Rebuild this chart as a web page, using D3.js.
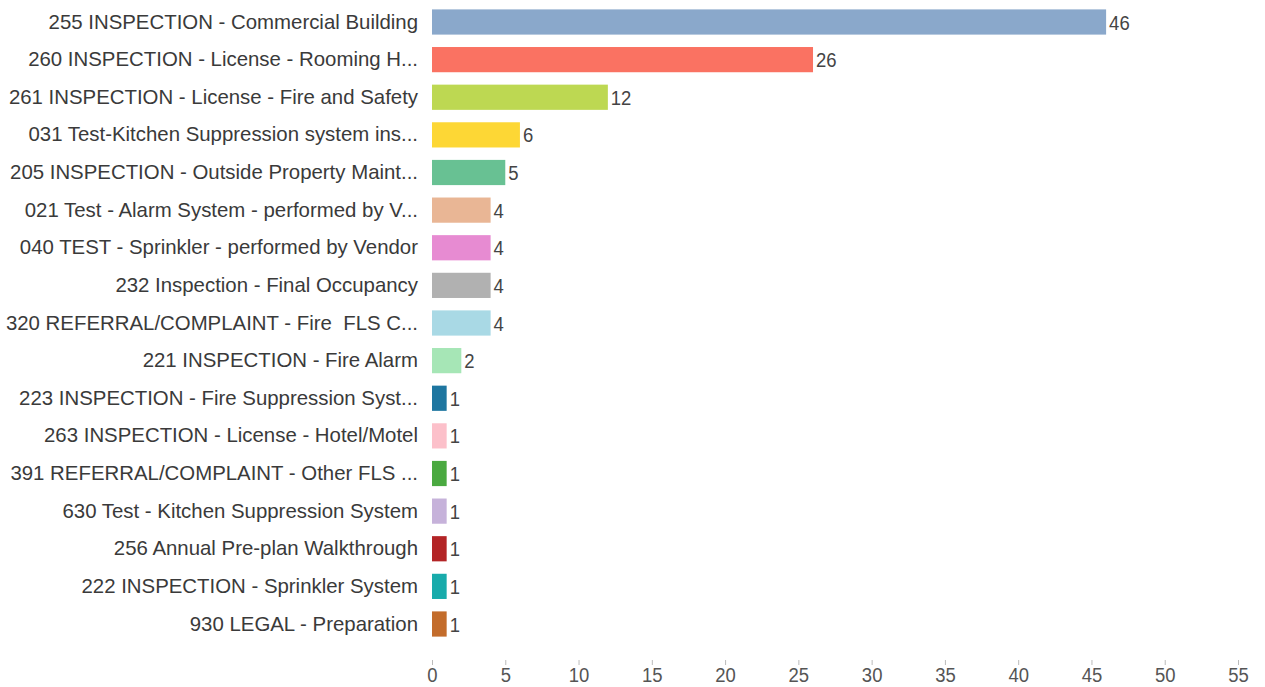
<!DOCTYPE html>
<html>
<head>
<meta charset="utf-8">
<script src="https://cdn.jsdelivr.net/npm/d3@7"></script>
<style>
  body { margin: 0; background: #fff; }
  svg text { font-family: "Liberation Sans", Arial, sans-serif; }
</style>
</head>
<body>
<div id="chart"></div>
<script>
// 数据
const categories = [
    '255 INSPECTION - Commercial Building',
    '260 INSPECTION - License - Rooming H...',
    '261 INSPECTION - License - Fire and Safety',
    '031 Test-Kitchen Suppression system ins...',
    '205 INSPECTION - Outside Property Maint...',
    '021 Test - Alarm System - performed by V...',
    '040 TEST - Sprinkler - performed by Vendor',
    '232 Inspection - Final Occupancy',
    '320 REFERRAL/COMPLAINT - Fire  FLS C...',
    '221 INSPECTION - Fire Alarm',
    '223 INSPECTION - Fire Suppression Syst...',
    '263 INSPECTION - License - Hotel/Motel',
    '391 REFERRAL/COMPLAINT - Other FLS ...',
    '630 Test - Kitchen Suppression System',
    '256 Annual Pre-plan Walkthrough',
    '222 INSPECTION - Sprinkler System',
    '930 LEGAL - Preparation'
];
const values = [46, 26, 12, 6, 5, 4, 4, 4, 4, 2, 1, 1, 1, 1, 1, 1, 1];
const colors = [
    '#8aa8cb', '#fa7262', '#bdd852', '#fdd735', '#68c193', '#e9b695',
    '#e78bd2', '#b1b1b1', '#a9d9e5', '#a6e6b6', '#1e76a0', '#fcc0ca',
    '#4aa940', '#c6b2da', '#b32426', '#18abab', '#c36c2b'
];
const xTicks = [0, 5, 10, 15, 20, 25, 30, 35, 40, 45, 50, 55];

const width = 1265, height = 687;
const margin = { top: 3, right: 25, bottom: 45, left: 432 };

const svg = d3.select('#chart').append('svg')
    .attr('width', width)
    .attr('height', height);

const plot = svg.append('g')
    .attr('transform', `translate(${margin.left},${margin.top})`);

// 比例尺
const xScale = d3.scaleLinear().domain([0, 55]).range([0, 806]);
const yScale = d3.scaleBand().domain(categories).range([0, 640]).paddingInner(0.33).paddingOuter(0.17);

// 窄体数字：横向压缩
const narrow = 0.88;

// 条形
plot.selectAll('rect.bar')
    .data(categories)
    .join('rect')
    .attr('class', 'bar')
    .attr('x', 0)
    .attr('y', d => yScale(d))
    .attr('width', (d, i) => xScale(values[i]))
    .attr('height', yScale.bandwidth())
    .attr('fill', (d, i) => colors[i]);

// 数值标签
plot.selectAll('text.value')
    .data(categories)
    .join('text')
    .attr('class', 'value')
    .attr('transform', (d, i) =>
        `translate(${xScale(values[i]) + 3},${yScale(d) + yScale.bandwidth() / 2}) scale(${narrow},1)`)
    .attr('dy', '0.36em')
    .attr('font-size', '21px')
    .attr('fill', '#444')
    .text((d, i) => values[i]);

// 类别标签 (y 轴)
const yAxisG = plot.append('g')
    .call(d3.axisLeft(yScale).tickSize(0).tickPadding(14));
yAxisG.select('.domain').remove();
yAxisG.selectAll('text')
    .attr('font-size', '20.4px')
    .attr('fill', '#3a3a3a')
    .style('white-space', 'pre');

// x 轴
const xAxisG = plot.append('g')
    .attr('transform', `translate(0,${660 - margin.top})`)
    .call(d3.axisBottom(xScale).tickValues(xTicks).tickSize(5).tickPadding(2));
xAxisG.select('.domain').remove();
xAxisG.selectAll('line').attr('stroke', '#bbb');
xAxisG.selectAll('text')
    .attr('font-size', '21px')
    .attr('fill', '#555')
    .attr('transform', `scale(${narrow},1)`);
</script>
</body>
</html>
